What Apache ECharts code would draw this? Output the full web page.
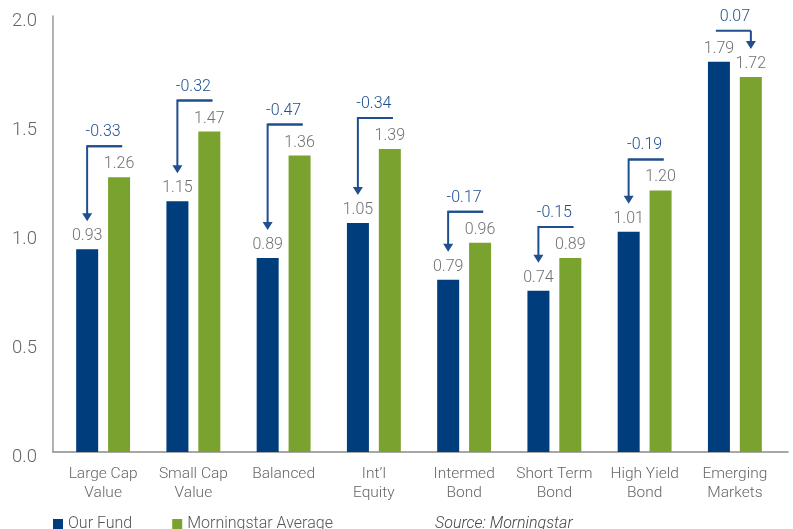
<!DOCTYPE html>
<html><head><meta charset="utf-8">
<script src="https://cdn.jsdelivr.net/npm/echarts@6/dist/echarts.min.js"></script>
<style>html,body{margin:0;padding:0;background:#fff}#c{width:793px;height:529px}</style>
</head><body><div id="c"></div>
<script>
const categories = ['Large Cap\nValue','Small Cap\nValue','Balanced','Int\u2019l\nEquity','Intermed\nBond','Short Term\nBond','High Yield\nBond','Emerging\nMarkets'];
const ourFund = [0.93,1.15,0.89,1.05,0.79,0.74,1.01,1.79];
const msAverage = [1.26,1.47,1.36,1.39,0.96,0.89,1.20,1.72];
const diffLabels = ['-0.33','-0.32','-0.47','-0.34','-0.17','-0.15','-0.19','0.07'];
const yTicks = [0,0.5,1.0,1.5,2.0];

const BLUE = '#003d7c', GREEN = '#79a22f', ARROW = '#1f4f8f';
const FONT = 'Roboto';
const arrowData = categories.map((c,i)=>[i, ourFund[i], msAverage[i], diffLabels[i]]);

const chart = echarts.init(document.getElementById('c'));
chart.setOption({
  animation:false,
  textStyle:{fontFamily:FONT},
  grid:[{left:58,right:13,top:16,bottom:77},{left:53,right:5,top:16,bottom:77}],
  xAxis:[{type:'category',data:categories,gridIndex:0,
    axisLine:{show:false},axisTick:{show:false},
    axisLabel:{color:'#666',fontSize:15.5,lineHeight:19,margin:13,fontFamily:FONT,fontWeight:300,interval:0}},
   {type:'category',data:['a'],gridIndex:1,axisLine:{lineStyle:{color:'#8a8a8a',width:1.5}},axisTick:{show:false},axisLabel:{show:false}}],
  yAxis:[{type:'value',min:yTicks[0],max:yTicks[yTicks.length-1],interval:0.5,gridIndex:0,offset:5,
    axisLine:{show:true,lineStyle:{color:'#9a9a9a',width:1.5}},axisTick:{show:false},splitLine:{show:false},
    axisLabel:{margin:16,formatter:v=>'{a|'+v.toFixed(1)+'}',
      rich:{a:{color:'#666',fontSize:18.5,padding:[10,0,0,0],fontFamily:FONT,fontWeight:300}}}},
   {type:'value',gridIndex:1,show:false}],
  legend:{left:53,top:516,padding:0,itemWidth:10,itemHeight:10,itemGap:40,icon:'rect',
    textStyle:{color:'#555',fontSize:16,fontFamily:FONT,fontWeight:300},
    data:['Our Fund','Morningstar Average']},
  title:{text:'Source: Morningstar',left:435,top:516,padding:0,textStyle:{fontSize:16,fontStyle:'italic',fontWeight:300,color:'#444',fontFamily:FONT}},
  series:[
    {name:'Our Fund',type:'bar',data:ourFund,barWidth:22,barGap:'45%',itemStyle:{color:BLUE},
      label:{show:true,position:'top',distance:5,color:'#707070',fontSize:16,fontFamily:FONT,fontWeight:300,formatter:p=>p.value.toFixed(2)}},
    {name:'Morningstar Average',type:'bar',data:msAverage,barWidth:22,itemStyle:{color:GREEN},
      label:{show:true,position:'top',distance:5,color:'#707070',fontSize:16,fontFamily:FONT,fontWeight:300,formatter:p=>p.value.toFixed(2)}},
    {type:'custom',data:arrowData,encode:{x:0,y:[1,2]},z:10,silent:true,
      renderItem:function(params,api){
        const i=api.value(0), f=api.value(1), a=api.value(2);
        const cx=api.coord([i,0])[0];
        const bx=cx-16, gx=cx+16;
        const fy=api.coord([i,f])[1], ay=api.coord([i,a])[1];
        const hy=Math.min(fy,ay)-31;
        const lowX = f<a?bx:gx, lowY=Math.max(fy,ay);
        const tipY=lowY-28;
        const x1 = f<a?bx:bx-3, x2 = f<a?gx+3:gx;
        return {type:'group',children:[
          {type:'polyline',shape:{points:[[x2,hy],[lowX,hy],[lowX,tipY-7]]},style:{stroke:ARROW,lineWidth:2,fill:null}},
          {type:'polyline',shape:{points:[[x1,hy],[x2,hy]]},style:{stroke:ARROW,lineWidth:2,fill:null}},
          {type:'polygon',shape:{points:[[lowX-5,tipY-8],[lowX+5,tipY-8],[lowX,tipY]]},style:{fill:ARROW}},
          {type:'text',x:(bx+gx)/2,y:hy-14,style:{text:api.value(3),fill:ARROW,fontSize:16,fontFamily:FONT,fontWeight:300,align:'center',verticalAlign:'middle'}}
        ]};
      }}
  ]
});
</script></body></html>
